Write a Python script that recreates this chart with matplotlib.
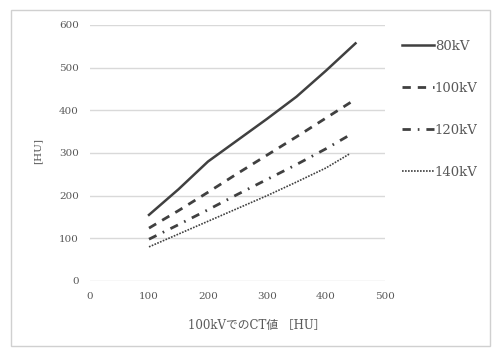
import matplotlib
matplotlib.use("Agg")
import matplotlib.pyplot as plt
from matplotlib.patches import Rectangle

plt.rcParams['font.family'] = ['DejaVu Serif', 'Noto Sans CJK JP', 'DejaVu Sans']

x_common = [100, 150, 200, 250, 300, 350, 400, 450]
x_short = [100, 150, 200, 250, 300, 350, 400, 440]
y_80 = [155, 215, 280, 330, 380, 432, 493, 557]
y_100 = [124, 165, 208, 252, 295, 338, 382, 426]
y_120 = [98, 132, 167, 203, 238, 273, 310, 342]
y_140 = [80, 110, 140, 170, 200, 232, 265, 298]
labels = ["80kV", "100kV", "120kV", "140kV"]
xticks = [0, 100, 200, 300, 400, 500]
yticks = [0, 100, 200, 300, 400, 500, 600]
xlabel = "100kVでのCT値 ［HU］"
ylabel = "[HU]"

txt = "#595959"
lc = "#404040"

fig = plt.figure(figsize=(4.95, 3.51), dpi=100)
fig.patches.append(Rectangle((11/495, 1-346/351), 479/495, 336/351, transform=fig.transFigure,
                             fill=False, edgecolor="#d0d0d0", linewidth=1))
ax = fig.add_axes([90/495, 1-281/351, 295/495, 256/351])
ax.plot(x_common, y_80, color=lc, lw=1.8, linestyle='-', label=labels[0])
ax.plot(x_common, y_100, color=lc, lw=2.0, linestyle=(0, (3, 2.5)), label=labels[1])
ax.plot(x_short, y_120, color=lc, lw=2.0, linestyle=(0, (3, 2.5, 0.6, 2.5)), label=labels[2])
ax.plot(x_short, y_140, color=lc, lw=1.2, linestyle=(0, (1, 0.8)), label=labels[3])

ax.set_xlim(0, 500)
ax.set_ylim(0, 600)
ax.set_xticks(xticks)
ax.set_yticks(yticks)
ax.tick_params(length=0, labelsize=7.5, colors=txt, pad=8)
ax.grid(axis='y', color="#d9d9d9", lw=1)
ax.set_axisbelow(True)
for s in ax.spines.values():
    s.set_visible(False)

fig.text(257/495, 1-326/351, xlabel, ha='center', va='center', fontsize=8.5, color=txt)
fig.text(38/495, 1-151/351, ylabel, ha='center', va='center', fontsize=7.5, color=txt, rotation=90)

leg = fig.legend(loc='upper left', bbox_to_anchor=(390/495, 1-28/351), frameon=False,
                 fontsize=9.5, labelcolor=txt, handlelength=2.4, handletextpad=0.1,
                 labelspacing=2.2)

fig.savefig("out.png", dpi=100)
